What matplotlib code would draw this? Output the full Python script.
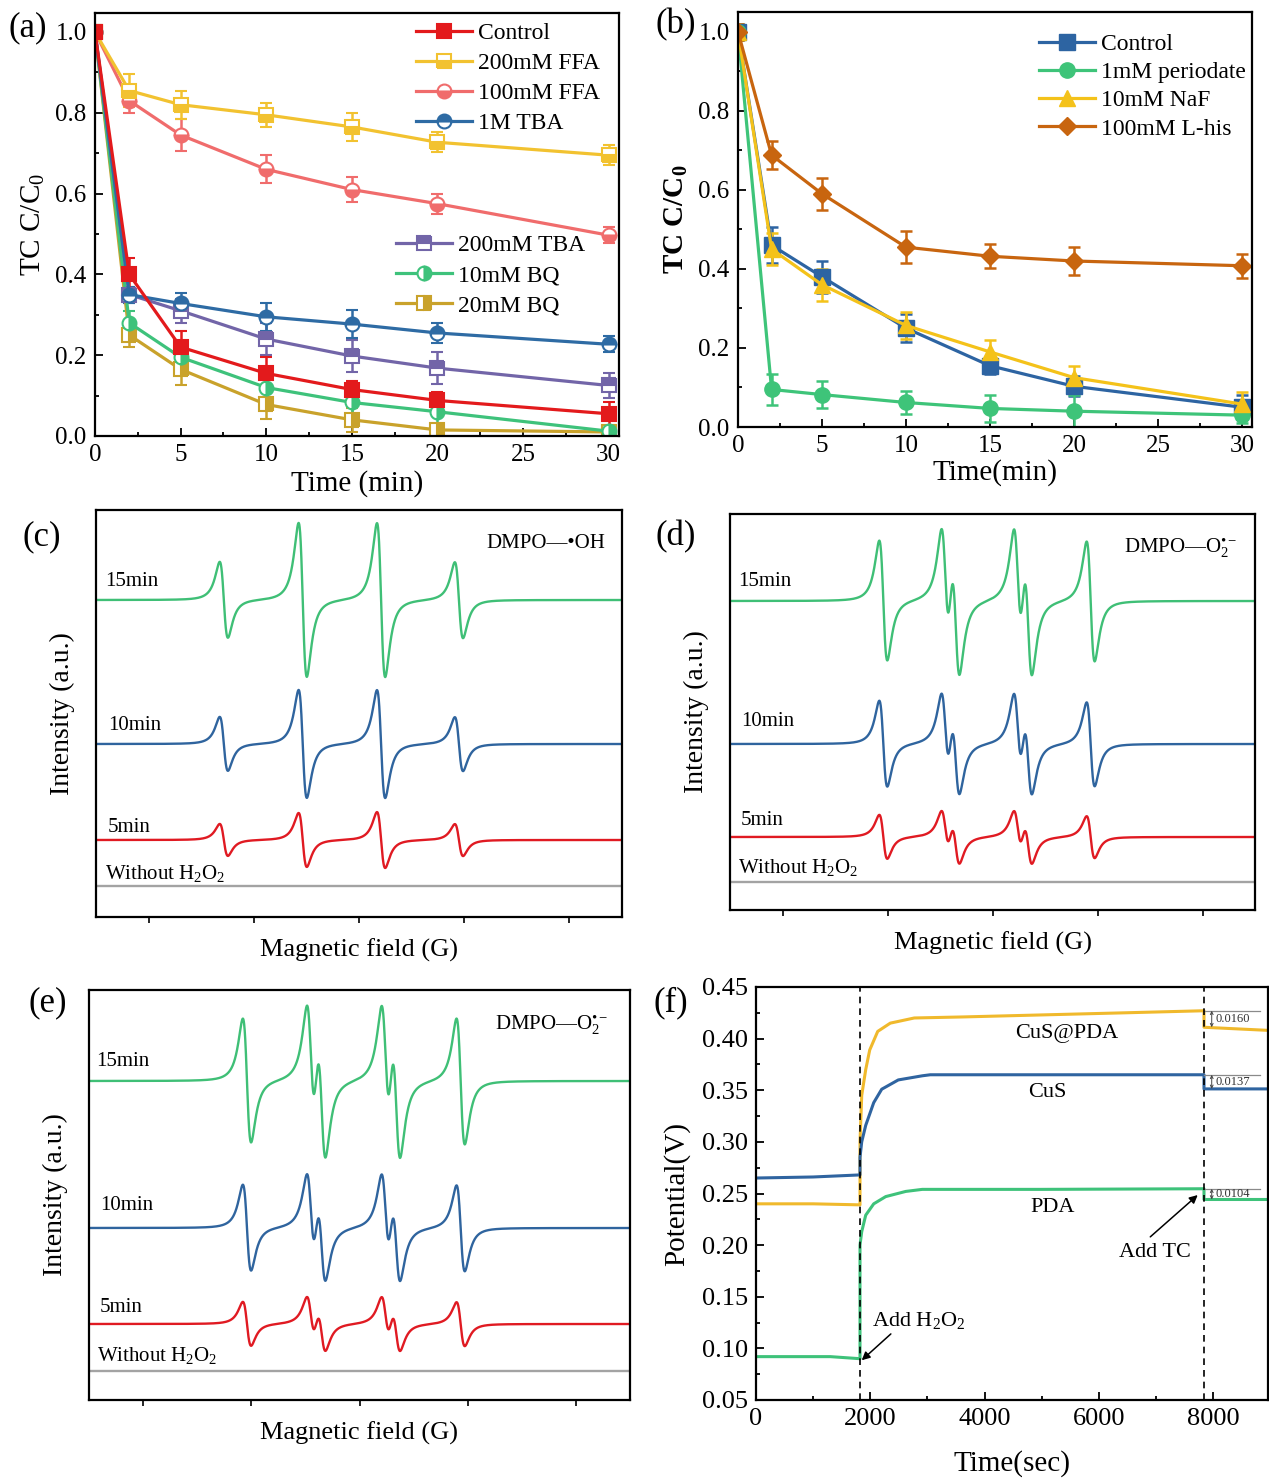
import numpy as np
import matplotlib
matplotlib.use("Agg")
import matplotlib.pyplot as plt
from matplotlib.ticker import MultipleLocator

plt.rcParams['font.family'] = ['Liberation Serif', 'DejaVu Serif']
plt.rcParams['mathtext.fontset'] = 'custom'
plt.rcParams['mathtext.rm'] = 'Liberation Serif'
plt.rcParams['mathtext.it'] = 'Liberation Serif:italic'
plt.rcParams['mathtext.bf'] = 'Liberation Serif:bold'
plt.rcParams['axes.linewidth'] = 1.6

# ---------------- (a) scavenger experiments ----------------
time_min = [0, 2, 5, 10, 15, 20, 30]
a_labels = ["Control", "200mM FFA", "100mM FFA", "1M TBA",
            "200mM TBA", "10mM BQ", "20mM BQ"]
a_control = [1.0, 0.40, 0.22, 0.155, 0.115, 0.088, 0.055]
a_ffa200 = [1.0, 0.855, 0.82, 0.795, 0.765, 0.727, 0.695]
a_ffa100 = [1.0, 0.83, 0.745, 0.66, 0.61, 0.575, 0.497]
a_tba1m = [1.0, 0.35, 0.328, 0.295, 0.277, 0.255, 0.227]
a_tba200 = [1.0, 0.35, 0.31, 0.24, 0.198, 0.168, 0.125]
a_bq10 = [1.0, 0.28, 0.195, 0.12, 0.083, 0.06, 0.012]
a_bq20 = [1.0, 0.25, 0.165, 0.078, 0.04, 0.015, 0.01]
a_err_control = [0.0, 0.04, 0.04, 0.04, 0.022, 0.02, 0.03]
a_err_ffa200 = [0.0, 0.04, 0.035, 0.03, 0.035, 0.025, 0.025]
a_err_ffa100 = [0.0, 0.03, 0.04, 0.035, 0.03, 0.025, 0.02]
a_err_tba1m = [0.0, 0.02, 0.025, 0.035, 0.035, 0.025, 0.02]
a_err_tba200 = [0.0, 0.02, 0.03, 0.04, 0.04, 0.04, 0.03]
a_err_bq10 = [0.0, 0.03, 0.03, 0.04, 0.04, 0.035, 0.01]
a_err_bq20 = [0.0, 0.03, 0.04, 0.035, 0.03, 0.01, 0.005]

# ---------------- (b) scavenger experiments ----------------
b_labels = ["Control", "1mM periodate", "10mM NaF", "100mM L-his"]
b_control = [1.0, 0.46, 0.38, 0.25, 0.155, 0.103, 0.05]
b_periodate = [1.0, 0.095, 0.082, 0.062, 0.047, 0.04, 0.03]
b_naf = [1.0, 0.45, 0.36, 0.257, 0.19, 0.125, 0.058]
b_lhis = [1.0, 0.688, 0.59, 0.455, 0.432, 0.42, 0.408]
b_err_control = [0.02, 0.045, 0.04, 0.035, 0.02, 0.025, 0.03]
b_err_periodate = [0.01, 0.04, 0.035, 0.03, 0.035, 0.04, 0.02]
b_err_naf = [0.02, 0.04, 0.04, 0.035, 0.03, 0.03, 0.03]
b_err_lhis = [0.02, 0.035, 0.04, 0.04, 0.03, 0.035, 0.03]

# ---------------- (c)-(e) EPR spectra ----------------
epr_labels = ["15min", "10min", "5min", "Without H$_2$O$_2$"]
# line centres on a relative field scale (0-100)
c_centres = [24.3, 39.3, 54.2, 69.0]
c_amp_15 = [38, 77, 77, 38]
c_amp_10 = [27, 54, 54, 27]
c_amp_5 = [16, 27, 28, 16]
c_offsets = [317, 173, 77, 31]

sox_centres = [29.2, 41.0, 43.0, 54.8, 56.8, 68.7]
d_amp_15 = [60, 58, 61, 58, 61, 60]
d_amp_10 = [43, 41, 41, 41, 41, 42]
d_amp_5 = [22, 21, 22, 21, 22, 21]
d_offsets = [309, 166, 73, 28]

e_amp_15 = [62, 61, 63, 61, 63, 63]
e_amp_10 = [43, 44, 43, 44, 43, 43]
e_amp_5 = [22, 22, 22, 22, 22, 22]
e_offsets = [319, 172, 76, 29]

# ---------------- (f) open-circuit potential ----------------
f_cuspda_t = [0, 1000, 1820, 1820, 1850, 1920, 1990, 2130, 2350, 2770, 3620, 5030, 6450, 7840]
f_cuspda_v = [0.240, 0.240, 0.239, 0.300, 0.345, 0.370, 0.389, 0.407, 0.415, 0.420, 0.421, 0.423, 0.425, 0.427]
f_cus_t = [0, 1000, 1820, 1820, 1850, 1920, 2060, 2200, 2490, 2910, 3050, 5000, 7840]
f_cus_v = [0.265, 0.266, 0.268, 0.285, 0.300, 0.316, 0.338, 0.351, 0.360, 0.364, 0.365, 0.365, 0.365]
f_pda_t = [0, 1300, 1820, 1820, 1850, 1920, 2060, 2270, 2620, 2910, 5000, 7840]
f_pda_v = [0.092, 0.092, 0.090, 0.200, 0.213, 0.229, 0.240, 0.247, 0.252, 0.254, 0.254, 0.2546]
f_drops = [0.0160, 0.0137, 0.0104]
f_tail_end = [0.408, 0.3513, 0.2442]
f_names = ["CuS@PDA", "CuS", "PDA"]
t_h2o2 = 1820
t_tc = 7840

W, H = 1269, 1481
fig = plt.figure(figsize=(W / 100, H / 100), dpi=100)


def px_axes(l, t, r, b):
    return fig.add_axes([l / W, 1 - b / H, (r - l) / W, (b - t) / H])


def style_kinetic(ax):
    ax.tick_params(which='both', direction='in', labelsize=18, width=1.3, pad=6)
    ax.tick_params(which='major', length=6)
    ax.tick_params(which='minor', length=3)


# ---- panel (a)
ax = px_axes(95, 13, 619, 436)
a_series = [a_control, a_ffa200, a_ffa100, a_tba1m, a_tba200, a_bq10, a_bq20]
a_errs = [a_err_control, a_err_ffa200, a_err_ffa100, a_err_tba1m,
          a_err_tba200, a_err_bq10, a_err_bq20]
a_colors = ['#E31A1C', '#F2C230', '#F06C6C', '#2E6BA4', '#7265A8', '#3EC27B', '#C9A22B']
a_markers = ['s', 's', 'o', 'o', 's', 'o', 's']
a_fill = ['full', 'bottom', 'bottom', 'top', 'top', 'right', 'right']
order = [6, 5, 4, 3, 2, 1, 0]
lines = {}
for i in order:
    cont = ax.errorbar(time_min, a_series[i], yerr=a_errs[i], color=a_colors[i],
                       lw=2.3, marker=a_markers[i], ms=10, mfc=a_colors[i],
                       mec=a_colors[i], markerfacecoloralt='white',
                       fillstyle=a_fill[i], mew=1.5, capsize=4.5,
                       elinewidth=1.8, capthick=1.8)
    lines[i] = cont[0]
ax.set_xlim(0, 30.6)
ax.set_ylim(0, 1.047)
ax.xaxis.set_major_locator(MultipleLocator(5))
ax.xaxis.set_minor_locator(MultipleLocator(2.5))
ax.yaxis.set_major_locator(MultipleLocator(0.2))
ax.yaxis.set_minor_locator(MultipleLocator(0.1))
ax.yaxis.set_major_formatter(matplotlib.ticker.FormatStrFormatter('%.1f'))
style_kinetic(ax)
ax.set_xlabel("Time (min)", fontsize=21, labelpad=3)
ax.set_ylabel("TC C/C$_0$", fontsize=21, labelpad=6)
leg_kw = dict(frameon=False, fontsize=17, handlelength=2.4, handletextpad=0.25,
              borderpad=0, borderaxespad=0, loc='upper left')
leg1 = ax.legend([lines[i] for i in range(4)], a_labels[:4],
                 bbox_to_anchor=(0.612, 0.978), labelspacing=0.36, **leg_kw)
ax.add_artist(leg1)
ax.legend([lines[i] for i in range(4, 7)], a_labels[4:],
          bbox_to_anchor=(0.574, 0.476), labelspacing=0.36, **leg_kw)

# ---- panel (b)
ax = px_axes(738, 12, 1252, 427)
b_series = [b_control, b_periodate, b_naf, b_lhis]
b_errs = [b_err_control, b_err_periodate, b_err_naf, b_err_lhis]
b_colors = ['#2D64A2', '#3EC479', '#F4C21A', '#C8650F']
b_markers = ['s', 'o', '^', 'D']
b_lines = []
for vals, errs, col, mk in zip(b_series, b_errs, b_colors, b_markers):
    cont = ax.errorbar(time_min, vals, yerr=errs, color=col, lw=2.3, marker=mk,
                       ms=11 if mk != 'D' else 9.5, mfc=col, mec=col,
                       capsize=4.5, elinewidth=1.8, capthick=1.8)
    b_lines.append(cont[0])
ax.set_xlim(0, 30.6)
ax.set_ylim(0, 1.05)
ax.xaxis.set_major_locator(MultipleLocator(5))
ax.xaxis.set_minor_locator(MultipleLocator(2.5))
ax.yaxis.set_major_locator(MultipleLocator(0.2))
ax.yaxis.set_minor_locator(MultipleLocator(0.1))
ax.yaxis.set_major_formatter(matplotlib.ticker.FormatStrFormatter('%.1f'))
style_kinetic(ax)
ax.set_xlabel("Time(min)", fontsize=21, labelpad=1)
ax.set_ylabel("TC C/C$_\\mathbf{0}$", fontsize=21, fontweight='bold', labelpad=6)
ax.legend(b_lines, b_labels, bbox_to_anchor=(0.585, 0.948), labelspacing=0.28,
          **leg_kw)

# ---- EPR panels
field = np.linspace(0, 100, 3000)


def epr_trace(centres, amps, width):
    y = np.zeros_like(field)
    norm = 16 * np.sqrt(3) * width ** 3 / 9
    for c, a in zip(centres, amps):
        u = field - c
        y += -a * u / (u ** 2 + width ** 2) ** 2 * norm
    return y


epr_colors = ['#3FBF76', '#2F649E', '#E01A22', '#A3A3A3']


def epr_panel(box, centres, amps, width, offsets, height, label_pos, title, title_pos):
    ax = px_axes(*box)
    for k in range(4):
        if k < 3:
            y = epr_trace(centres, amps[k], width)
        else:
            y = np.zeros_like(field)
        ax.plot(field, y + offsets[k], color=epr_colors[k], lw=1.7)
    for lab, (lx, ly) in zip(epr_labels, label_pos):
        ax.text(lx, ly, lab, fontsize=15, va='center', ha='left')
    ax.text(title_pos[0], title_pos[1], title, fontsize=15, ha='right', va='center')
    ax.set_xlim(0, 100)
    ax.set_ylim(0, height)
    ax.set_xticks([10, 30, 50, 70, 90])
    ax.set_xticklabels([])
    ax.set_yticks([])
    ax.tick_params(axis='x', direction='out', length=4, width=1.2)
    ax.set_xlabel("Magnetic field (G)", fontsize=19, labelpad=8)
    ax.set_ylabel("Intensity (a.u.)", fontsize=20, labelpad=15)
    return ax


sox_title = "DMPO—O$_2^{\\mathrm{•−}}$"
epr_panel((96, 510, 622, 917), c_centres, [c_amp_15, c_amp_10, c_amp_5], 1.35,
          c_offsets, 407,
          [(1.7, 336), (2.3, 192), (2.3, 89), (1.7, 44)],
          "DMPO—•OH", (96.8, 374))
epr_panel((730, 514, 1255, 910), sox_centres, [d_amp_15, d_amp_10, d_amp_5], 1.32,
          d_offsets, 396,
          [(1.5, 328), (2.1, 188), (2.1, 89), (1.5, 42)],
          sox_title, (96.6, 362))
epr_panel((89, 990, 630, 1400), sox_centres, [e_amp_15, e_amp_10, e_amp_5], 1.32,
          e_offsets, 410,
          [(1.3, 339), (2.0, 194), (2.0, 93), (1.5, 45)],
          sox_title, (96.0, 375))

# ---- panel (f)
ax = px_axes(756, 987, 1268, 1400)
f_colors = ['#F0B92C', '#2F64A0', '#3EC27A']
f_t = [f_cuspda_t, f_cus_t, f_pda_t]
f_v = [f_cuspda_v, f_cus_v, f_pda_v]
x_end = 8960
for t, v, drop, tail, col in zip(f_t, f_v, f_drops, f_tail_end, f_colors):
    tt = list(t) + [t_tc, x_end]
    vv = list(v) + [v[-1] - drop, tail]
    ax.plot(tt, vv, color=col, lw=2.2, solid_joinstyle='round')
    top = v[-1]
    ax.plot([t_tc, 8820], [top, top], color='#8A8A8A', lw=0.9)
    ax.annotate('', xy=(7975, top - drop), xytext=(7975, top),
                arrowprops=dict(arrowstyle='<->', lw=0.7, color='#444444',
                                shrinkA=0, shrinkB=0, mutation_scale=5))
    ax.text(8035, top - drop / 2, f"{drop:.4f}", fontsize=9, va='center',
            ha='left', color='#333333')
for tv in (t_h2o2, t_tc):
    ax.axvline(tv, color='black', lw=1.2, ls=(0, (4, 3)))
ax.text(5430, 0.405, f_names[0], fontsize=16, ha='center', va='center')
ax.text(5100, 0.348, f_names[1], fontsize=16, ha='center', va='center')
ax.text(5185, 0.236, f_names[2], fontsize=16, ha='center', va='center')
ax.text(2030, 0.127, "Add H$_2$O$_2$", fontsize=16, va='center', ha='left')
ax.annotate("", xy=(1850, 0.0885), xytext=(2360, 0.114),
            arrowprops=dict(arrowstyle='-|>', color='black', lw=1.1,
                            mutation_scale=12, shrinkA=0, shrinkB=0))
ax.text(6990, 0.193, "Add TC", fontsize=16, va='center', ha='center')
ax.annotate("", xy=(7730, 0.2485), xytext=(6900, 0.208),
            arrowprops=dict(arrowstyle='-|>', color='black', lw=1.1,
                            mutation_scale=12, shrinkA=0, shrinkB=0))
ax.set_xlim(0, x_end)
ax.set_ylim(0.05, 0.45)
ax.xaxis.set_major_locator(MultipleLocator(2000))
ax.xaxis.set_minor_locator(MultipleLocator(1000))
ax.yaxis.set_major_locator(MultipleLocator(0.05))
ax.yaxis.set_minor_locator(MultipleLocator(0.025))
ax.yaxis.set_major_formatter(matplotlib.ticker.FormatStrFormatter('%.2f'))
ax.tick_params(which='both', direction='in', labelsize=19, width=1.3, pad=6)
ax.tick_params(which='major', length=6)
ax.tick_params(which='minor', length=3)
ax.set_xlabel("Time(sec)", fontsize=21, labelpad=14)
ax.set_ylabel("Potential(V)", fontsize=21, labelpad=8)

# ---- panel letters
for lab, (x, y) in zip(["(a)", "(b)", "(c)", "(d)", "(e)", "(f)"],
                       [(28, 28), (676, 25), (42, 537), (676, 537), (48, 1003), (671, 1003)]):
    fig.text(x / W, 1 - y / H, lab, fontsize=25, ha='center', va='center')

fig.savefig("out.png", dpi=100)
